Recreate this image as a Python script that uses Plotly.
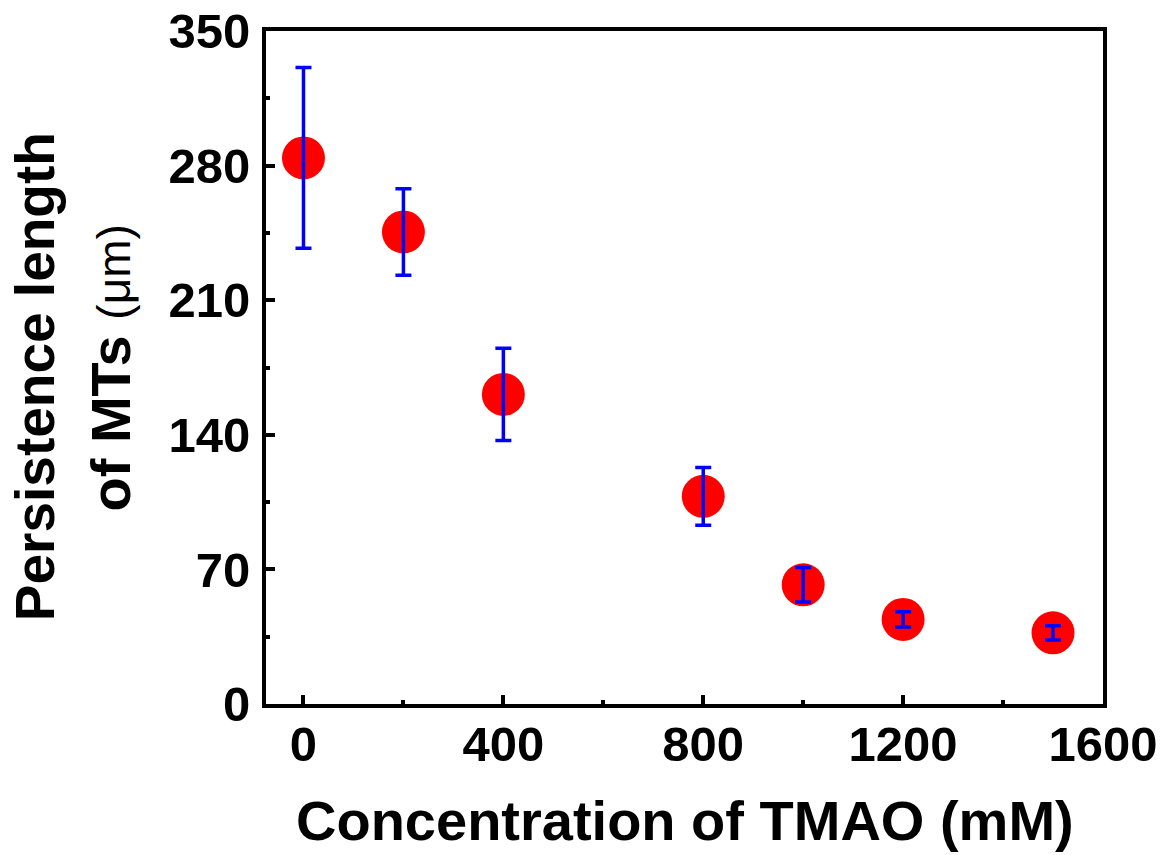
import plotly.graph_objects as go

concentration = [0, 200, 400, 800, 1000, 1200, 1500]
persistence = [284, 245.5, 161, 108, 62, 44, 37]
error = [47, 22.5, 24, 15, 9, 4, 3.7]

x_ticks = [0, 400, 800, 1200, 1600]
y_ticks = [0, 70, 140, 210, 280, 350]

FONT = "Liberation Sans, Arial, sans-serif"

fig = go.Figure()
fig.add_trace(go.Scatter(
    x=concentration, y=persistence, mode="markers",
    marker=dict(color="#FF0000", size=43, line=dict(width=0)),
    showlegend=False, hoverinfo="skip"))
fig.add_trace(go.Scatter(
    x=concentration, y=persistence, mode="markers",
    marker=dict(color="rgba(0,0,0,0)", size=1),
    error_y=dict(type="data", array=error, visible=True,
                 color="#0000FF", thickness=3.5, width=8),
    showlegend=False, hoverinfo="skip"))

axis_common = dict(
    showline=True, linecolor="black", linewidth=4, mirror=True,
    ticks="inside", ticklen=9, tickwidth=3.5, tickcolor="black",
    showgrid=False, zeroline=False, automargin=False,
    tickfont=dict(family=FONT, size=49, color="black", weight="bold"),
)

fig.update_xaxes(
    range=[-75, 1600], tickvals=x_ticks, ticktext=[str(v) for v in x_ticks],
    minor=dict(dtick=200, tick0=0, ticks="inside", ticklen=4, tickwidth=3.5, tickcolor="black", showgrid=False),
    ticklabelstandoff=-6,
    **axis_common)
fig.update_yaxes(
    range=[0, 350], tickvals=y_ticks, ticktext=[str(v) for v in y_ticks],
    minor=dict(dtick=35, tick0=0, ticks="inside", ticklen=4, tickwidth=3.5, tickcolor="black", showgrid=False),
    ticklabelstandoff=2,
    **axis_common)

fig.add_annotation(
    text="Concentration of TMAO (mM)", xref="paper", yref="paper",
    x=0.5, y=-0.124, xanchor="center", yanchor="top",
    showarrow=False, font=dict(family=FONT, size=56, color="black", weight="bold"))
fig.add_annotation(
    text="Persistence length", xref="paper", yref="paper",
    x=-0.276, y=0.487, xanchor="center", yanchor="middle", textangle=-90,
    showarrow=False, font=dict(family=FONT, size=55, color="black", weight="bold"))
fig.add_annotation(
    text="of MTs <span style='font-size:46px;font-weight:normal'>(μm)</span>", xref="paper", yref="paper",
    x=-0.186, y=0.499, xanchor="center", yanchor="middle", textangle=-90,
    showarrow=False, font=dict(family=FONT, size=56, color="black", weight="bold"))

fig.update_layout(
    width=1164, height=855,
    margin=dict(l=266, r=61, t=31, b=151),
    paper_bgcolor="white", plot_bgcolor="white",
)

fig.write_html("out.html", config={"displayModeBar": False},
               post_script="document.body.style.margin='0px';")
